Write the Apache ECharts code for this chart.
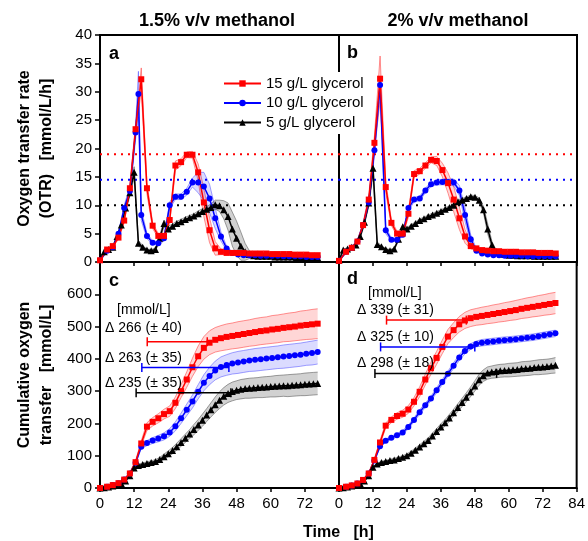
<!DOCTYPE html>
<html>
<head>
<meta charset="utf-8">
<script src="https://cdn.jsdelivr.net/npm/echarts@6/dist/echarts.min.js"></script>
<style>
html, body { margin: 0; padding: 0; background: #fff; }
#chart { width: 588px; height: 541px; }
</style>
</head>
<body>
<div id="chart"></div>
<script>
// time grids [h]
const tRB = [0, 2.5, 4.5, 6.5, 8.5, 10.5, 12.5, 14.5, 16.5, 18.5, 20.5, 22.5, 24.5, 26.5, 28.5, 30.5, 32.5, 34.5, 36.5, 38.5, 40.5, 42.5, 44.5, 46.5, 48.5, 50.5, 52.5, 54.5, 56.5, 58.5, 60.5, 62.5, 64.5, 66.5, 68.5, 70.5, 72.5, 74.5, 76.5]
const tBlueA = [0, 2.5, 4.5, 6.5, 8.5, 10.5, 12.5, 13.5, 14.5, 16.5, 18.5, 20.5, 22.5, 24.5, 26.5, 28.5, 30.5, 32.5, 34.5, 36.5, 38.5, 40.5, 42.5, 44.5, 46.5, 48.5, 50.5, 52.5, 54.5, 56.5, 58.5, 60.5, 62.5, 64.5, 66.5, 68.5, 70.5, 72.5, 74.5, 76.5]
const tK = [0, 1.5, 3, 4.5, 6, 7.5, 9, 10.5, 12, 13.5, 15, 16.5, 18, 19.5, 21, 22.5, 24, 25.5, 27, 28.5, 30, 31.5, 33, 34.5, 36, 37.5, 39, 40.5, 42, 43.5, 45, 46.5, 48, 49.5, 51, 52.5, 54, 55.5, 57, 58.5, 60, 61.5, 63, 64.5, 66, 67.5, 69, 70.5, 72, 73.5, 75, 76.5]

// OTR [mmol/L/h], 1.5% methanol (a)
const otrRedA = [0.3, 2.2, 2.8, 4.3, 7.3, 13.0, 23.4, 32.2, 13.0, 6.4, 4.6, 4.6, 7.4, 17.0, 17.6, 18.9, 18.9, 15.8, 10.5, 5.6, 2.4, 1.8, 1.6, 1.6, 1.6, 1.6, 1.5, 1.5, 1.5, 1.5, 1.4, 1.4, 1.4, 1.4, 1.3, 1.3, 1.3, 1.2, 1.2]
const sdRedA = [0.2, 0.2, 0.2, 0.3, 0.4, 0.6, 1.0, 2.0, 1.0, 0.5, 0.4, 0.4, 0.6, 0.8, 0.6, 0.5, 0.6, 1.5, 2.5, 2.2, 1.2, 0.5, 0.3, 0.2, 0.2, 0.2, 0.2, 0.2, 0.2, 0.2, 0.2, 0.2, 0.2, 0.2, 0.2, 0.2, 0.2, 0.2, 0.2]
const otrBlueA = [0.3, 2.0, 2.6, 5.0, 9.5, 12.5, 22.8, 29.6, 8.3, 4.6, 3.4, 3.3, 4.2, 10.0, 11.5, 11.5, 12.4, 14.0, 14.0, 13.3, 11.2, 7.7, 4.5, 2.4, 1.6, 1.3, 1.2, 1.2, 1.2, 1.1, 1.1, 1.1, 1.1, 1.0, 1.0, 1.0, 1.0, 0.9, 0.9, 0.9]
const sdBlueA = [0.2, 0.2, 0.2, 0.3, 0.5, 0.8, 1.2, 4.0, 1.0, 0.5, 0.3, 0.3, 0.5, 0.6, 0.5, 0.5, 0.6, 0.8, 1.8, 2.5, 2.5, 1.8, 0.8, 0.4, 0.2, 0.2, 0.2, 0.2, 0.2, 0.2, 0.2, 0.2, 0.2, 0.2, 0.2, 0.2, 0.2, 0.2, 0.2, 0.2]
const otrBlackA = [0.5, 1.8, 2.2, 2.6, 4.5, 6.5, 9.5, 12.2, 15.8, 3.3, 2.6, 2.1, 2.0, 2.2, 4.2, 6.8, 5.8, 6.3, 6.8, 7.1, 7.5, 7.8, 8.1, 8.5, 8.9, 9.3, 9.6, 10.1, 9.9, 9.2, 8.0, 5.8, 4.2, 2.8, 1.8, 1.3, 1.1, 1.0, 1.0, 1.0, 1.0, 0.9, 0.9, 0.9, 0.9, 0.9, 0.8, 0.8, 0.8, 0.8, 0.8, 0.8]
const sdBlackA = [0.2, 0.2, 0.2, 0.2, 0.3, 0.4, 0.5, 0.6, 1.0, 0.5, 0.3, 0.2, 0.2, 0.3, 0.5, 0.6, 0.5, 0.4, 0.4, 0.4, 0.4, 0.4, 0.4, 0.5, 0.5, 0.5, 0.6, 0.8, 1.0, 1.6, 2.4, 3.0, 3.0, 2.5, 1.5, 0.7, 0.3, 0.2, 0.2, 0.2, 0.2, 0.2, 0.2, 0.2, 0.2, 0.2, 0.2, 0.2, 0.2, 0.2, 0.2, 0.2]

// OTR [mmol/L/h], 2% methanol (b)
const otrRedB = [0.2, 1.8, 2.5, 3.6, 6.5, 11.0, 21.0, 32.3, 13.2, 6.9, 5.0, 5.0, 8.5, 15.5, 16.0, 17.0, 18.0, 17.8, 16.2, 13.9, 11.0, 7.7, 4.5, 2.8, 2.4, 2.1, 2.0, 1.9, 1.9, 1.8, 1.8, 1.8, 1.7, 1.7, 1.7, 1.6, 1.6, 1.6, 1.5]
const sdRedB = [0.2, 0.2, 0.2, 0.3, 0.4, 0.8, 1.2, 4.0, 1.0, 0.5, 0.4, 0.4, 0.6, 0.6, 0.5, 0.5, 0.5, 0.8, 1.2, 1.8, 2.2, 2.0, 1.2, 0.5, 0.3, 0.2, 0.2, 0.2, 0.2, 0.2, 0.2, 0.2, 0.2, 0.2, 0.2, 0.2, 0.2, 0.2, 0.2]
const otrBlueB = [0.2, 1.8, 2.5, 3.6, 6.5, 10.5, 19.7, 31.2, 5.6, 3.9, 3.9, 4.8, 9.5, 11.0, 11.2, 12.6, 13.7, 14.0, 14.1, 14.1, 14.0, 12.6, 8.3, 4.0, 2.0, 1.5, 1.3, 1.2, 1.2, 1.1, 1.1, 1.1, 1.1, 1.0, 1.0, 1.0, 1.0, 1.0, 1.0]
const sdBlueB = [0.2, 0.2, 0.2, 0.3, 0.4, 0.6, 1.0, 1.5, 0.6, 0.3, 0.3, 0.3, 0.5, 0.4, 0.4, 0.4, 0.4, 0.4, 0.5, 0.5, 0.6, 0.9, 1.2, 0.8, 0.3, 0.2, 0.2, 0.2, 0.2, 0.2, 0.2, 0.2, 0.2, 0.2, 0.2, 0.2, 0.2, 0.2, 0.2]
const otrBlackB = [0.3, 2.1, 2.3, 2.6, 3.0, 4.5, 7.0, 10.4, 16.5, 3.1, 2.7, 2.2, 2.0, 2.3, 4.0, 6.2, 5.8, 6.3, 6.8, 7.3, 7.6, 8.0, 8.3, 8.6, 8.9, 9.3, 9.6, 10.0, 10.6, 10.9, 11.2, 11.5, 11.4, 10.9, 9.2, 5.8, 3.0, 1.8, 1.4, 1.3, 1.2, 1.2, 1.1, 1.1, 1.1, 1.1, 1.0, 1.0, 1.0, 1.0, 1.0, 1.0]
const sdBlackB = [0.2, 0.2, 0.2, 0.2, 0.2, 0.3, 0.4, 0.6, 1.2, 0.4, 0.2, 0.2, 0.2, 0.2, 0.3, 0.4, 0.3, 0.3, 0.3, 0.3, 0.3, 0.3, 0.3, 0.3, 0.3, 0.3, 0.3, 0.3, 0.3, 0.3, 0.3, 0.3, 0.3, 0.4, 0.6, 0.9, 0.6, 0.3, 0.2, 0.2, 0.2, 0.2, 0.2, 0.2, 0.2, 0.2, 0.2, 0.2, 0.2, 0.2, 0.2, 0.2]

// cumulative oxygen transfer [mmol/L], 1.5% methanol (c)
const cumRedC = [0, 4, 9, 15, 26, 45, 80, 138, 190, 205, 216, 229, 238, 264, 300, 336, 374, 408, 434, 450, 459, 464, 468, 471, 474, 477, 480, 483, 486, 488, 491, 493, 496, 498, 500, 503, 505, 507, 509]
const sdRedC = [0, 0, 0, 1, 2, 3, 5, 8, 12, 13, 14, 15, 16, 18, 20, 24, 28, 32, 35, 37, 38, 39, 40, 40, 41, 41, 41, 42, 42, 42, 43, 43, 43, 44, 44, 45, 45, 46, 46]
const cumBlueC = [0, 4, 9, 15, 26, 45, 78, 128, 139, 147, 153, 160, 172, 191, 216, 242, 268, 298, 326, 347, 364, 375, 381, 386, 389, 392, 395, 397, 399, 401, 403, 405, 407, 409, 411, 413, 416, 418, 421]
const sdBlueC = [0, 0, 0, 1, 2, 3, 5, 6, 8, 9, 10, 11, 12, 14, 16, 18, 20, 22, 25, 27, 29, 31, 32, 33, 34, 34, 34, 35, 35, 35, 35, 35, 36, 36, 36, 36, 36, 37, 37]
const cumBlackC = [0, 1, 3, 6, 9, 14, 22, 38, 62, 70, 73, 76, 79, 82, 88, 97, 106, 116, 128, 141, 154, 167, 181, 195, 210, 226, 242, 258, 272, 284, 293, 299, 303, 306, 308, 309, 310, 311, 312, 313, 314, 315, 316, 317, 317, 318, 319, 320, 321, 322, 323, 324]
const sdBlackC = [0, 0, 0, 1, 1, 2, 2, 3, 4, 4, 5, 5, 5, 6, 7, 8, 9, 10, 11, 12, 13, 14, 16, 17, 19, 20, 22, 24, 26, 27, 28, 29, 29, 30, 30, 31, 31, 31, 32, 32, 32, 33, 33, 33, 34, 34, 34, 34, 35, 35, 35, 35]

// cumulative oxygen transfer [mmol/L], 2% methanol (d)
const cumRedD = [0, 4, 8, 14, 25, 45, 87, 141, 193, 211, 223, 230, 243, 267, 298, 336, 371, 403, 437, 469, 489, 507, 519, 526, 530, 533, 536, 539, 542, 545, 548, 551, 555, 558, 561, 564, 567, 570, 573]
const sdRedD = [0, 0, 0, 1, 2, 3, 4, 6, 8, 9, 10, 11, 12, 13, 15, 17, 19, 20, 21, 22, 23, 24, 25, 26, 26, 27, 27, 28, 28, 29, 29, 30, 30, 31, 31, 32, 32, 33, 33]
const cumBlueD = [0, 4, 8, 14, 25, 45, 85, 129, 146, 156, 163, 172, 189, 211, 235, 256, 277, 303, 328, 354, 379, 404, 424, 438, 446, 450, 452, 454, 456, 458, 459, 461, 463, 465, 467, 470, 473, 476, 479]
const sdBlueD = [0, 0, 0, 1, 1, 2, 3, 4, 5, 5, 5, 6, 6, 6, 7, 7, 7, 8, 8, 8, 9, 9, 9, 9, 9, 10, 10, 10, 10, 10, 10, 10, 10, 10, 10, 10, 10, 10, 10]
const cumBlackD = [0, 1, 3, 6, 9, 14, 22, 38, 64, 74, 79, 82, 85, 87, 91, 95, 100, 108, 117, 127, 137, 147, 161, 175, 189, 202, 217, 233, 249, 265, 281, 298, 316, 335, 348, 356, 359, 361, 363, 364, 365, 366, 367, 369, 370, 371, 373, 374, 375, 376, 378, 380]
const sdBlackD = [0, 0, 0, 1, 1, 1, 2, 2, 3, 3, 4, 4, 4, 5, 5, 5, 6, 6, 7, 7, 8, 8, 9, 9, 10, 10, 11, 11, 12, 13, 14, 15, 16, 17, 18, 19, 19, 20, 20, 20, 21, 21, 21, 22, 22, 22, 22, 23, 23, 23, 23, 24]

// max OTR reference levels (dotted lines)
const refLevels = [19, 14.5, 10]

// delta ranges in c and d
const levelC = [453, 373, 295]
const startC = [16.6, 14.7, 12.7]
const endC = [37.7, 45.3, 46]
const levelD = [520, 437, 355]
const startD = [16.8, 14.7, 12.7]
const endD = [45, 48, 55.7]
const deltaC = ['Δ 266 (± 40)', 'Δ 263 (± 35)', 'Δ 235 (± 35)']
const deltaD = ['Δ 339 (± 31)', 'Δ 325 (± 10)', 'Δ 298 (± 18)']

const names = ['15 g/L glycerol', '10 g/L glycerol', '5 g/L glycerol']
const colors = ['#ff0000', '#0000ff', '#000000']
const fills = ['rgba(255,0,0,0.16)', 'rgba(0,0,255,0.14)', 'rgba(0,0,0,0.18)']
const edges = ['rgba(255,60,60,0.7)', 'rgba(60,60,255,0.6)', 'rgba(60,60,60,0.6)']
const symbols = ['rect', 'circle', 'triangle']
const ff = "'Liberation Sans', Arial, sans-serif"

const myChart = echarts.init(document.getElementById('chart'))

function curve(k, gi, t, v) {
  return {
    name: names[k],
    type: 'line',
    xAxisIndex: gi,
    yAxisIndex: gi,
    z: 5,
    data: t.map((x, i) => [x, v[i]]),
    symbol: symbols[k],
    symbolSize: k === 2 ? 7 : 6,
    lineStyle: { color: colors[k], width: 1.5 },
    itemStyle: { color: colors[k] },
    animation: false
  }
}

function band(k, gi, t, v, sd) {
  const lo = t.map((x, i) => [x, Math.max(0, v[i] - sd[i])])
  const hi = t.map((x, i) => [x, v[i] + sd[i]])
  return {
    type: 'custom',
    xAxisIndex: gi,
    yAxisIndex: gi,
    silent: true,
    z: 2,
    animation: false,
    encode: { x: 0, y: 1 },
    data: t.map((x, i) => [x, v[i]]),
    renderItem(params, api) {
      if (params.dataIndexInside !== 0) return null
      const top = hi.map(p => api.coord(p))
      const bot = lo.map(p => api.coord(p))
      return {
        type: 'group',
        children: [
          { type: 'polygon', shape: { points: top.concat(bot.slice().reverse()) }, style: { fill: fills[k] } },
          { type: 'polyline', shape: { points: top }, style: { fill: null, stroke: edges[k], lineWidth: 0.8 } },
          { type: 'polyline', shape: { points: bot }, style: { fill: null, stroke: edges[k], lineWidth: 0.8 } }
        ]
      }
    }
  }
}

function refLine(k, gi) {
  return {
    type: 'line', xAxisIndex: gi, yAxisIndex: gi, z: 3, silent: true, animation: false,
    symbol: 'none',
    data: [[0, refLevels[k]], [84, refLevels[k]]],
    lineStyle: { color: colors[k], width: 2, type: [2, 5] }
  }
}

function rangeLine(k, gi, s, e, lvl) {
  return {
    type: 'line', xAxisIndex: gi, yAxisIndex: gi, z: 6, silent: true, animation: false,
    symbol: 'rect', symbolSize: [1.5, 9],
    data: [[s[k], lvl[k]], [e[k], lvl[k]]],
    lineStyle: { color: colors[k], width: 1.5 },
    itemStyle: { color: colors[k] }
  }
}

function xAx(gi) {
  return {
    type: 'value', gridIndex: gi, min: 0, max: 84, interval: 12,
    axisLine: { show: true, onZero: false, lineStyle: { color: '#000', width: 2 } },
    axisTick: { show: true, length: 4, lineStyle: { color: '#000', width: 1.5 } },
    axisLabel: { show: gi >= 2, fontSize: 15, color: '#000', fontFamily: ff, margin: 8, showMaxLabel: gi === 3 },
    splitLine: { show: false }
  }
}

function yAx(gi) {
  const top = gi < 2
  const left = gi % 2 === 0
  const ax = {
    type: 'value', gridIndex: gi, min: 0, max: top ? 40 : 700, interval: top ? 5 : 100,
    axisLine: { show: true, onZero: false, lineStyle: { color: '#000', width: 2 } },
    axisTick: { show: left, length: 5, lineStyle: { color: '#000', width: 1.5 } },
    axisLabel: { show: left, fontSize: 15, color: '#000', fontFamily: ff, margin: 8, showMaxLabel: top },
    splitLine: { show: false }
  }
  if (left) {
    ax.name = top ? 'Oxygen transfer rate\n(OTR)   [mmol/L/h]' : 'Cumulative oxygen\ntransfer   [mmol/L]'
    ax.nameLocation = 'middle'
    ax.nameRotate = 90
    ax.nameGap = 42
    ax.nameTextStyle = { fontSize: 16, fontWeight: 'bold', color: '#000', fontFamily: ff, lineHeight: 22 }
  }
  return ax
}

function txt(x, y, text, size, bold, align) {
  return {
    type: 'text', x, y, z: 10,
    style: {
      text, fontSize: size, fontWeight: bold ? 'bold' : 'normal', fontFamily: ff,
      fill: '#000', align: align || 'left', verticalAlign: 'middle'
    }
  }
}

const series = [
  band(0, 0, tRB, otrRedA, sdRedA), band(1, 0, tBlueA, otrBlueA, sdBlueA), band(2, 0, tK, otrBlackA, sdBlackA),
  band(0, 1, tRB, otrRedB, sdRedB), band(1, 1, tRB, otrBlueB, sdBlueB), band(2, 1, tK, otrBlackB, sdBlackB),
  band(0, 2, tRB, cumRedC, sdRedC), band(1, 2, tRB, cumBlueC, sdBlueC), band(2, 2, tK, cumBlackC, sdBlackC),
  band(0, 3, tRB, cumRedD, sdRedD), band(1, 3, tRB, cumBlueD, sdBlueD), band(2, 3, tK, cumBlackD, sdBlackD),
  refLine(0, 0), refLine(1, 0), refLine(2, 0), refLine(0, 1), refLine(1, 1), refLine(2, 1),
  curve(2, 0, tK, otrBlackA), curve(1, 0, tBlueA, otrBlueA), curve(0, 0, tRB, otrRedA),
  curve(2, 1, tK, otrBlackB), curve(1, 1, tRB, otrBlueB), curve(0, 1, tRB, otrRedB),
  curve(2, 2, tK, cumBlackC), curve(1, 2, tRB, cumBlueC), curve(0, 2, tRB, cumRedC),
  curve(2, 3, tK, cumBlackD), curve(1, 3, tRB, cumBlueD), curve(0, 3, tRB, cumRedD)
]
for (let k = 0; k < 3; k++) {
  series.push(rangeLine(k, 2, startC, endC, levelC))
  series.push(rangeLine(k, 3, startD, endD, levelD))
}

const graphic = [
  txt(217, 21, '1.5% v/v methanol', 18, true, 'center'),
  txt(458, 21, '2% v/v methanol', 18, true, 'center'),
  txt(109, 54, 'a', 18, true),
  txt(347, 53, 'b', 18, true),
  txt(109, 281, 'c', 18, true),
  txt(347, 279, 'd', 18, true),
  txt(303, 533, 'Time   [h]', 16, true),
  txt(117, 310, '[mmol/L]', 14, false),
  txt(368, 293, '[mmol/L]', 14, false)
]
const yC = [328, 358, 383]
const yD = [310, 337, 363]
for (let k = 0; k < 3; k++) {
  graphic.push(txt(105, yC[k], deltaC[k], 14, false))
  graphic.push(txt(357, yD[k], deltaD[k], 14, false))
}

const option = {
  backgroundColor: '#fff',
  animation: false,
  textStyle: { fontFamily: ff },
  grid: [
    { left: 100, top: 35, width: 239, height: 227, show: true, borderColor: '#000', borderWidth: 2 },
    { left: 339, top: 35, width: 238, height: 227, show: true, borderColor: '#000', borderWidth: 2 },
    { left: 100, top: 262, width: 239, height: 226, show: true, borderColor: '#000', borderWidth: 2 },
    { left: 339, top: 262, width: 238, height: 226, show: true, borderColor: '#000', borderWidth: 2 }
  ],
  xAxis: [xAx(0), xAx(1), xAx(2), xAx(3)],
  yAxis: [yAx(0), yAx(1), yAx(2), yAx(3)],
  legend: {
    data: names,
    orient: 'vertical',
    left: 219,
    top: 72,
    itemWidth: 37,
    itemHeight: 8,
    itemGap: 4.5,
    padding: [4, 4, 4, 4],
    backgroundColor: '#fff',
    selectedMode: false,
    textStyle: { fontSize: 15, color: '#000', fontFamily: ff, lineHeight: 15 }
  },
  graphic,
  series
}

myChart.setOption(option)
</script>
</body>
</html>
